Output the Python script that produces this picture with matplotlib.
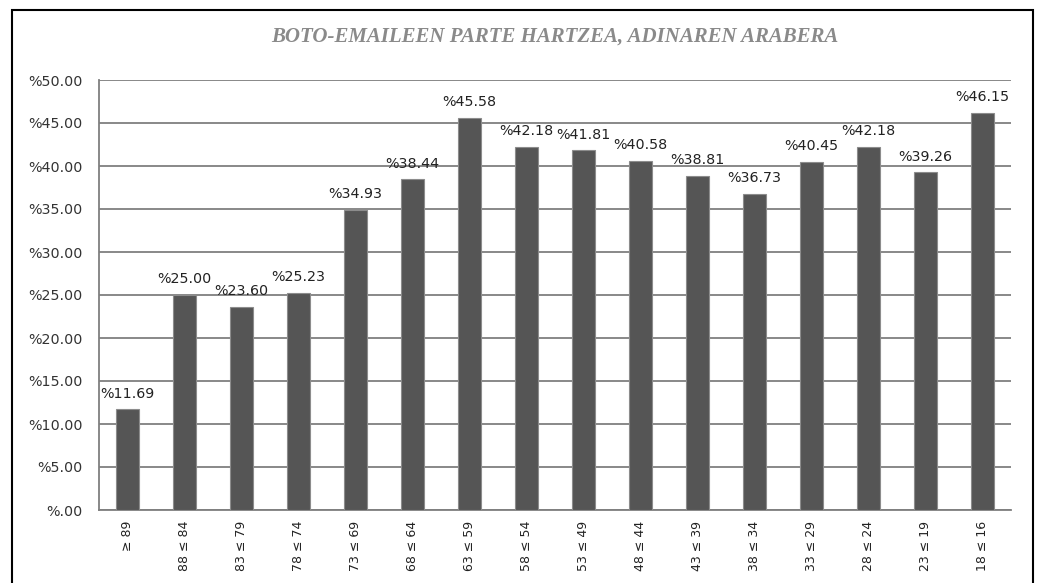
import matplotlib.pyplot as plt
from matplotlib.patches import Rectangle
from matplotlib.ticker import FuncFormatter, MultipleLocator

# datuak
taldeak = ['≥ 89', '88 ≤ 84', '83 ≤ 79', '78 ≤ 74', '73 ≤ 69', '68 ≤ 64',
           '63 ≤ 59', '58 ≤ 54', '53 ≤ 49', '48 ≤ 44', '43 ≤ 39', '38 ≤ 34',
           '33 ≤ 29', '28 ≤ 24', '23 ≤ 19', '18 ≤ 16']
portzentajeak = [11.69, 25.00, 23.60, 25.23, 34.93, 38.44, 45.58, 42.18,
                 41.81, 40.58, 38.81, 36.73, 40.45, 42.18, 39.26, 46.15]
izenburua = 'BOTO-EMAILEEN PARTE HARTZEA, ADINAREN ARABERA'

W, H = 1037, 583
fig = plt.figure(figsize=(W / 100, H / 100), dpi=100)
fig.patch.set_facecolor('white')

# kanpoko markoa
fig.add_artist(Rectangle((12 / W, -0.05), (1033 - 12) / W, 1.05 - 10 / H,
                         transform=fig.transFigure, fill=False,
                         edgecolor='black', linewidth=1.5))

ax = fig.add_axes([99 / W, 1 - 510 / H, (1011 - 99) / W, (510 - 80) / H])

x = range(len(taldeak))
ax.bar(x, portzentajeak, width=0.39, color='#555555', edgecolor='#8c8c8c',
       linewidth=0.8, zorder=3)

for i, v in enumerate(portzentajeak):
    ax.annotate(f'%{v:.2f}', (i, v), xytext=(0, 8.5), textcoords='offset points',
                ha='center', va='baseline', fontsize=10.3, color='#222222',
                zorder=4)

ax.set_xlim(-0.5, len(taldeak) - 0.5)
ax.set_ylim(0, 50)
ax.yaxis.set_major_locator(MultipleLocator(5))
ax.yaxis.set_major_formatter(FuncFormatter(
    lambda v, p: '%.00' if v == 0 else f'%{v:.2f}'))
ax.set_xticks(list(x))
ax.set_xticklabels(taldeak, rotation=90, fontsize=9, color='#222222')
ax.tick_params(axis='x', length=0, pad=8)
ax.tick_params(axis='y', length=0, pad=12, labelsize=10.3, labelcolor='#333333')

ax.grid(axis='y', color='#7f7f7f', linewidth=1.3, zorder=0)
for s in ['top', 'right']:
    ax.spines[s].set_visible(False)
ax.spines['left'].set_color('#7f7f7f')
ax.spines['left'].set_linewidth(1.3)
ax.spines['bottom'].set_color('#7f7f7f')
ax.spines['bottom'].set_linewidth(1.3)

fig.text(555 / W, 1 - 37 / H, izenburua, ha='center', va='center',
         fontsize=15, fontstyle='italic', fontweight='bold',
         family='Liberation Serif', color='#8a8a8a')

fig.savefig('out.png', dpi=100)
